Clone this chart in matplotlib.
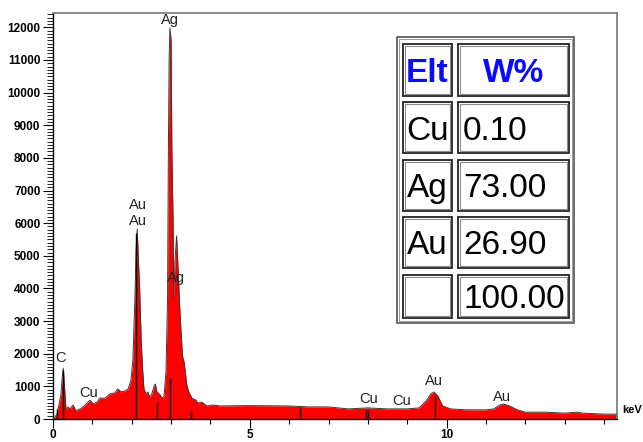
import matplotlib
matplotlib.use('Agg')
import matplotlib.pyplot as plt
from matplotlib.patches import Rectangle
from matplotlib.ticker import MultipleLocator

# EDS spectrum (keV, counts)
energy = [0.00, 0.05, 0.10, 0.15, 0.20, 0.23, 0.26, 0.29, 0.33, 0.38, 0.43, 0.51,
          0.58, 0.69, 0.79, 0.94, 1.02, 1.12, 1.19, 1.32, 1.45, 1.57, 1.65, 1.73,
          1.83, 1.91, 1.98, 2.03, 2.08, 2.11, 2.14, 2.17, 2.20, 2.24, 2.27, 2.31,
          2.37, 2.41, 2.46, 2.51, 2.57, 2.60, 2.64, 2.72, 2.77, 2.82, 2.87, 2.91,
          2.93, 2.95, 2.97, 3.00, 3.02, 3.05, 3.07, 3.10, 3.14, 3.18, 3.21, 3.25,
          3.29, 3.33, 3.35, 3.40, 3.45, 3.53, 3.63, 3.68, 3.78, 3.91, 4.06, 4.24,
          5.00, 6.00, 6.50, 7.00, 7.50, 8.00, 8.50, 9.00, 9.30, 9.50, 9.60, 9.68,
          9.78, 9.90, 10.10, 10.50, 11.00, 11.20, 11.35, 11.45, 11.60, 11.80, 12.00,
          12.50, 13.00, 13.30, 13.45, 14.00, 14.33]
counts = [0, 60, 150, 430, 740, 1200, 1560, 1040, 280, 370, 310, 430,
          250, 310, 400, 580, 460, 520, 640, 640, 770, 800, 920, 830,
          860, 920, 1190, 1810, 3650, 5180, 5820, 4870, 4040, 2420, 1650, 920,
          770, 830, 670, 770, 1010, 1070, 830, 740, 640, 700, 1440, 3650,
          7930, 11000, 11980, 11610, 8240, 6100, 3650, 4870, 5610, 4560, 3650, 2730,
          1930, 1750, 1560, 1040, 830, 640, 580, 490, 520, 400, 430, 400,
          410, 400, 370, 370, 310, 340, 310, 310, 340, 580, 770, 830,
          700, 400, 310, 280, 280, 310, 430, 460, 400, 280, 210,
          210, 180, 210, 180, 150, 150]

# black peak marker lines
marker_kev = [0.10, 0.26, 2.12, 2.63, 2.97, 3.50, 6.27, 7.94, 8.00, 9.70]
marker_height = [300, 1500, 5700, 480, 1270, 250, 330, 290, 290, 700]

# peak labels
label_text = ['C', 'Cu', 'Au', 'Au', 'Ag', 'Ag', 'Cu', 'Cu', 'Au', 'Au']
label_kev = [0.20, 0.91, 2.16, 2.16, 2.97, 3.12, 8.02, 8.86, 9.67, 11.40]
label_counts = [1870, 800, 6560, 6070, 12220, 4320, 610, 550, 1160, 670]

# weight table
table_head = ['Elt', 'W%']
elements = ['Cu', 'Ag', 'Au', '']
weights = ['0.10', '73.00', '26.90', '100.00']

W, H = 643, 442
fig = plt.figure(figsize=(W / 100, H / 100), dpi=100)
ax = fig.add_axes([53 / W, 23 / H, 564 / W, 406 / H])

ax.fill_between(energy, counts, color='#ff0000', lw=0, zorder=2)
ax.plot(energy, counts, color='#3a3a3a', lw=0.7, zorder=3)
ax.vlines(marker_kev, 0, marker_height, color='black', lw=1, zorder=4)

for t, x, y in zip(label_text, label_kev, label_counts):
    ax.text(x, y, t, ha='center', va='center', fontsize=10.5,
            family='Liberation Sans', color='#222222', zorder=5)

ax.set_xlim(0, 14.33)
ax.set_ylim(0, 12440)
ax.xaxis.set_major_locator(MultipleLocator(5))
ax.xaxis.set_minor_locator(MultipleLocator(1))
ax.yaxis.set_major_locator(MultipleLocator(1000))
ax.yaxis.set_minor_locator(MultipleLocator(100))
ax.tick_params(axis='x', which='major', length=6.5, width=0.8, pad=1)
ax.tick_params(axis='x', which='minor', length=3.6, width=0.8)
ax.tick_params(axis='y', which='major', length=7, width=0.8, pad=2)
ax.tick_params(axis='y', which='minor', length=4, width=0.6)
for lab in ax.get_xticklabels() + ax.get_yticklabels():
    lab.set_fontweight('bold')
    lab.set_fontsize(8.5)
    lab.set_family('Liberation Sans')
for s in ['top', 'right']:
    ax.spines[s].set_color('#777777')
    ax.spines[s].set_linewidth(1.2)
for s in ['left', 'bottom']:
    ax.spines[s].set_color('black')
    ax.spines[s].set_linewidth(1)

ax.text(14.71, 280, 'keV', ha='center', va='center', fontsize=8,
        fontweight='bold', family='Liberation Sans', clip_on=False)


def box(x0, y0, x1, y1, color='#222222', lw=1.3):
    # rectangle given in pixels from the top-left corner
    fig.add_artist(Rectangle((x0 / W, 1 - y1 / H), (x1 - x0) / W, (y1 - y0) / H,
                             transform=fig.transFigure, fill=False,
                             edgecolor=color, lw=lw))


def cell(x0, y0, x1, y1):
    box(x0, y0, x1, y1)
    box(x0 + 2, y0 + 2, x1 - 2, y1 - 2, color='#8a8a8a', lw=0.8)


fig.add_artist(Rectangle((397 / W, 1 - 323 / H), 177 / W, 286 / H,
                         transform=fig.transFigure, facecolor='white',
                         edgecolor='none'))
box(397, 37, 574, 323, color='#555555', lw=1.2)
box(399, 39, 572, 321, color='#999999', lw=0.7)

col1 = (403, 452)
col2 = (458, 569)
rows = [(44, 96), (102, 153), (160, 211), (217, 268), (275, 318)]

for (r0, r1) in rows:
    cell(col1[0], r0, col1[1], r1)
    cell(col2[0], r0, col2[1], r1)

r0, r1 = rows[0]
yb = 1 - ((r0 + r1) / 2 + 12) / H
fig.text((col1[0] + col1[1]) / 2 / W, yb, table_head[0], ha='center', va='baseline',
         fontsize=24, fontweight='bold', color='#0a0aff', family='Liberation Sans')
fig.text((col2[0] + col2[1]) / 2 / W, yb, table_head[1], ha='center', va='baseline',
         fontsize=24, fontweight='bold', color='#0a0aff', family='Liberation Sans')

for (r0, r1), el, wv in zip(rows[1:], elements, weights):
    yb = 1 - ((r0 + r1) / 2 + 12) / H
    fig.text((col1[0] + col1[1]) / 2 / W, yb, el, ha='center', va='baseline',
             fontsize=24, color='black', family='Liberation Sans')
    fig.text((col2[0] + 5) / W, yb, wv, ha='left', va='baseline',
             fontsize=24, color='black', family='Liberation Sans')

fig.savefig('out.png', dpi=100)
